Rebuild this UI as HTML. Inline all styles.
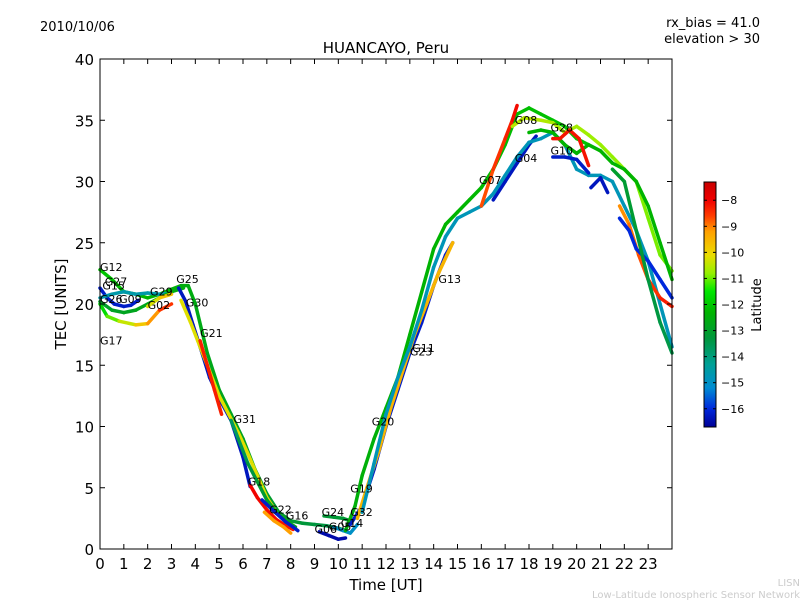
<!DOCTYPE html>
<html><head><meta charset="utf-8"><style>
body{margin:0;background:#fff;}
svg{font-family:"DejaVu Sans","Liberation Sans",sans-serif;}
</style></head><body>
<svg id="chart" width="800" height="600" viewBox="0 0 800 600">
<text x="40" y="31" font-size="13">2010/10/06</text>
<text x="760" y="27" font-size="13" text-anchor="end">rx_bias = 41.0</text>
<text x="760" y="43" font-size="13" text-anchor="end">elevation &gt; 30</text>
<text x="386" y="53" font-size="15" text-anchor="middle">HUANCAYO, Peru</text>
<text x="386" y="590" font-size="15" text-anchor="middle">Time [UT]</text>
<text transform="translate(66,304) rotate(-90)" font-size="15" text-anchor="middle">TEC [UNITS]</text>
<text x="800" y="586" font-size="10" fill="#ccc" text-anchor="end">LISN</text>
<text x="800" y="598" font-size="10" fill="#ccc" text-anchor="end">Low-Latitude Ionospheric Sensor Network</text>
<g id="plot"></g>
<g id="axes"></g>
<g id="cbar"></g>
<text transform="translate(761,305) rotate(-90)" font-size="13" text-anchor="middle">Latitude</text>
</svg>
<script>
const xTicks=[0,1,2,3,4,5,6,7,8,9,10,11,12,13,14,15,16,17,18,19,20,21,22,23];
const yTicks=[0,5,10,15,20,25,30,35,40];
const cbTicks=[-8,-9,-10,-11,-12,-13,-14,-15,-16];
const latMin=-16.7, latMax=-7.3;
const trackTimes=[
[0,0.5,1,1.5,2,2.5,3,3.4,3.7,4,4.5,5,5.5,6,6.5,7,7.5,8,8.5,9,9.5,10,10.3],
[0,0.3,0.8,1.5,2,2.5,3],
[0,0.3,0.6,1,1.3,1.6],
[0,0.5,1,1.5,2,2.5,3],
[0,0.5,1,1.5,2,2.5,3,3.5],
[2,2.5,3],
[3.3,3.6,3.9,4.2,4.6,5,5.5,6,6.3],
[3.4,3.8,4.1,4.5,5,5.4,5.8,6.2,6.6,7,7.4,7.8,8.1],
[4.2,4.5,4.8,5.1],
[5.5,5.8,6.2,6.6,7,7.4,7.8,8.2],
[6.3,6.6,7,7.4,7.8,8.1],
[6.8,7.4,7.8,8.1,8.3],
[6.9,7.3,7.7,8],
[9.4,9.8,10.2,10.5],
[9.2,9.6,10,10.3],
[9.8,10.2,10.5,10.8],
[10.3,10.7,11,11.5,12,12.5,13,13.5,14,14.5,15,15.5,16,16.5,17,17.5,18,18.5,19,19.5,20,20.5,21],
[10.5,11,11.5,12,12.5,13,13.5,14,14.5,14.8],
[16.5,17,17.5,18,18.3],
[10.8,11.2,11.7,12.2,12.7,13.2,13.7,14.2,14.8],
[11,11.5,12,12.5,13,13.5,14,14.5,15,15.5,16,16.5,17,17.5,18,18.5,19,19.5,20,20.5,21,21.5,22,22.5,23,23.5,24],
[16,16.5,17,17.3,17.5],
[17.3,17.8,18.5,19,19.5,20,20.5,21,21.5,22,22.5,23,23.5,24],
[18,18.5,19,19.5,20,20.5,21,21.5,22,22.5,23,23.5,24],
[19,19.3,19.7,20.1,20.5],
[19,19.5,20,20.5],
[20.6,21,21.3],
[21.8,22.2,22.6,23,23.5,24],
[21.8,22.2,22.5,23,23.5,24],
[21.5,22,22.5,23,23.5,24]
];
const trackTec=[
[22.8,22,21,20.8,20.5,20.8,21.2,21.5,21.5,20,16,13,11,9,6.5,4.5,3,2.3,2.1,2,1.9,1.7,1.5],
[20,19,18.6,18.3,18.4,19.5,20],
[21.3,20.5,20,19.8,19.9,20.3],
[20.5,20.8,21,20.8,20.9,20.8,20.9],
[20.2,19.5,19.3,19.5,20,20.5,21,21.3],
[19.8,20.5,20.8],
[21.3,20.2,18.3,16.5,14,12.3,10.5,7.5,5.1],
[20.3,18.5,17,15,12.5,11,9.5,7.8,6,4.2,3,2.3,1.8],
[17,15,13,11],
[10.5,9,7,5.5,4,3,2.3,1.8],
[5.2,4.2,3.2,2.4,1.9,1.6],
[4,2.9,2.2,1.8,1.5],
[3,2.3,1.8,1.3],
[2.7,2.6,2.5,2.3],
[1.4,1.1,0.8,0.9],
[1.8,1.5,1.3,2],
[1.5,3.5,6,9,11.5,14,17.5,21,24.5,26.5,27.5,28.5,29.5,31,33,35.5,36,35.5,35,34.5,33.5,33,32.5],
[2,3.5,6.5,10,13,16,18.5,21.5,24,25],
[28.5,30,31.5,33,33.7],
[2.5,5,8,11.5,14.5,17.5,20,22.5,25],
[3,7,11,14,16.5,19.5,23,25.5,27,27.5,28,29,30.5,32,33.2,33.5,34,33,31,30.5,30.5,30,28,26,23.5,20,16.5],
[28,31,33.5,35,36.2],
[34.5,35.2,35,34.8,34,34.5,33.8,33,32,31,30,27,24,22.7],
[34,34.2,34,33,32.3,33,32.5,31.5,31,30,28,25,22],
[33.5,33.5,34.2,33.5,31.3],
[32,32,31.8,30.7],
[29.5,30.3,29.1],
[28,26.5,24,22,20.5,19.8],
[27,26,24.5,23.5,22,20.5],
[31,30,26,22,18.5,16]
];
const trackLatStart=[-12,-12,-16.2,-14.6,-13,-10.5,-16.3,-10.2,-8.3,-13.8,-8,-16.2,-9.2,-13.2,-16.5,-15,-12.5,-16.2,-16.3,-9.5,-14.8,-8.8,-10.5,-12.3,-8.2,-16.2,-16.3,-9.2,-16,-13];
const trackLatEnd=[-13.5,-8.2,-16.2,-14.6,-12.5,-9.5,-16.3,-10.2,-8.3,-12.5,-8.2,-16.2,-9.2,-13.2,-16.5,-15,-12,-16.2,-16.3,-9.5,-14.8,-8,-11,-12.3,-8.2,-16.2,-16.3,-8.2,-16,-13.5];
const labelNames=["G12","G27","G15","G26","G09","G29","G02","G17","G25","G30","G21","G31","G18","G22","G16","G24","G06","G05","G14","G32","G19","G20","G23","G11","G13","G07","G04","G08","G28","G10"];
const labelT=[0,0.2,0.1,0,0.8,2.1,2,0,3.2,3.6,4.2,5.6,6.2,7.1,7.8,9.3,9.0,9.6,10.1,10.5,10.5,11.4,13,13.1,14.2,15.9,17.4,17.4,18.9,18.9];
const labelTec=[22.7,21.5,21.2,20.1,20.1,20.7,19.6,16.7,21.7,19.8,17.3,10.3,5.2,2.9,2.4,2.7,1.3,1.5,1.8,2.7,4.6,10.1,15.8,16.1,21.7,29.8,31.6,34.7,34.1,32.2];

const X0=100,X1=672,Y0=549,Y1=59;
const xs=t=>X0+t*(X1-X0)/24;
const ys=v=>Y0-v*(Y0-Y1)/40;
const NS="http://www.w3.org/2000/svg";
const cmapLat=[-16.7,-16,-15.2,-14.3,-13.3,-12.3,-11.5,-10.8,-10.1,-9.2,-8.6,-8,-7.3];
const cmapCol=[[0,0,150],[0,40,220],[0,140,210],[0,160,150],[0,150,60],[0,180,0],[0,230,0],[150,240,0],[235,220,0],[255,160,0],[255,60,0],[240,0,0],[200,0,0]];
function latColor(l){
 if(l<=cmapLat[0])return `rgb(${cmapCol[0]})`;
 for(let k=1;k<cmapLat.length;k++){if(l<=cmapLat[k]){const f=(l-cmapLat[k-1])/(cmapLat[k]-cmapLat[k-1]);const a=cmapCol[k-1],b=cmapCol[k];return `rgb(${a.map((v,i)=>Math.round(v+(b[i]-v)*f)).join(',')})`;}}
 return `rgb(${cmapCol[cmapCol.length-1]})`;}
function mk(tag,attrs,parent){const e=document.createElementNS(NS,tag);for(const k in attrs)e.setAttribute(k,attrs[k]);parent.appendChild(e);return e;}
const plot=document.getElementById('plot'),axes=document.getElementById('axes'),cbar=document.getElementById('cbar');
trackTimes.forEach((ts,i)=>{
 const g=mk('g',{},plot);
 
 
 const v=trackTec[i];
 for(let j=0;j<ts.length-1;j++){
  const f=(j+0.5)/(ts.length-1);
  const lat=trackLatStart[i]+(trackLatEnd[i]-trackLatStart[i])*f;
  const s=mk('line',{x1:xs(ts[j]),y1:ys(v[j]),x2:xs(ts[j+1]),y2:ys(v[j+1]),stroke:latColor(lat),'stroke-width':3.5,'stroke-linecap':'round'},g);
  
  
 }
});
labelNames.forEach((n,i)=>{
 const t=mk('text',{x:xs(labelT[i]),y:ys(labelTec[i]),'font-size':11},plot);
 t.textContent=n;
 
 
});
mk('rect',{x:X0,y:Y1,width:X1-X0,height:Y0-Y1,fill:'none',stroke:'#000','stroke-width':1},axes);
xTicks.forEach(t=>{
 const x=xs(t);
 mk('line',{x1:x,y1:Y0,x2:x,y2:Y0-5,stroke:'#000'},axes);
 mk('line',{x1:x,y1:Y1,x2:x,y2:Y1+5,stroke:'#000'},axes);
 const l=mk('text',{x:x,y:Y0+20,'font-size':15,'text-anchor':'middle'},axes);
 l.textContent=t;
 
 
});
yTicks.forEach(v=>{
 const y=ys(v);
 mk('line',{x1:X0,y1:y,x2:X0+5,y2:y,stroke:'#000'},axes);
 mk('line',{x1:X1,y1:y,x2:X1-5,y2:y,stroke:'#000'},axes);
 const l=mk('text',{x:X0-6,y:y+6,'font-size':15,'text-anchor':'end'},axes);
 l.textContent=v;
 
 
});
const CX=704,CW=12,CT=182,CB=427;
const cy=l=>CB-(l-latMin)/(latMax-latMin)*(CB-CT);
const defs=mk('defs',{},cbar);
const gr=mk('linearGradient',{id:'cmapg',x1:0,y1:1,x2:0,y2:0},defs);
cmapLat.forEach((l,k)=>mk('stop',{offset:(l-latMin)/(latMax-latMin),'stop-color':`rgb(${cmapCol[k]})`},gr));
mk('rect',{x:CX,y:CT,width:CW,height:CB-CT,fill:'url(#cmapg)',stroke:'#000','stroke-width':1},cbar);
cbTicks.forEach(l=>{
 const y=cy(l);
 mk('line',{x1:CX+CW-3,y1:y,x2:CX+CW,y2:y,stroke:'#000'},cbar);
 mk('line',{x1:CX,y1:y,x2:CX+3,y2:y,stroke:'#000'},cbar);
 const t=mk('text',{x:CX+CW+5,y:y+4,'font-size':11},cbar);
 t.textContent='\u2212'+Math.abs(l);
 
 
});
</script>
</body></html>
